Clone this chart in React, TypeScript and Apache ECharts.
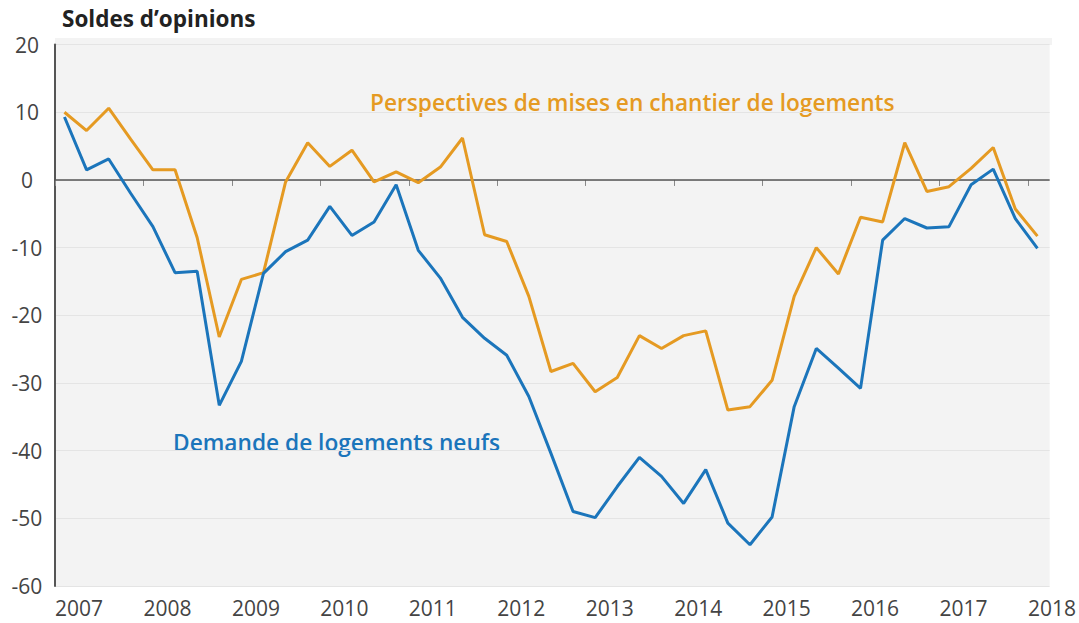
import React, { useEffect, useRef } from "react";
import * as echarts from "echarts";

const years = [2007, 2008, 2009, 2010, 2011, 2012, 2013, 2014, 2015, 2016, 2017, 2018];
const quartersPerYear = ["T1", "T2", "T3", "T4"];
// quarterly survey points, 2007 T1 .. 2018 T1
const quarters: string[] = [];
years.forEach((y) => quartersPerYear.forEach((q) => quarters.push(`${y}-${q}`)));
const quarterLabels = quarters.slice(0, 45);

const perspectives = [
  10, 7.3, 10.6, 6, 1.5, 1.5, -8.5, -23.2, -14.7, -13.7, -0.3, 5.5, 2.0, 4.4, -0.3,
  1.2, -0.4, 1.9, 6.2, -8.1, -9.1, -17.2, -28.3, -27.1, -31.3, -29.2, -23.0, -24.9, -23.0,
  -22.3, -34.0, -33.5, -29.6, -17.2, -10.0, -13.9, -5.5, -6.2, 5.5, -1.7, -1.0, 1.7, 4.8,
  -4.3, -8.3,
];
const demande = [
  9.3, 1.5, 3.1, -2, -6.9, -13.7, -13.5, -33.3, -26.8, -13.8, -10.6, -8.9, -3.9, -8.2,
  -6.2, -0.7, -10.4, -14.5, -20.3, -23.4, -25.9, -32.0, -40.4, -49.0, -49.9, -45.3, -41.0,
  -43.8, -47.8, -42.8, -50.7, -53.9, -49.8, -33.5, -24.9, -27.8, -30.8, -8.9, -5.7, -7.1,
  -6.9, -0.7, 1.6, -5.7, -10.1,
];

const yTicks = [-60, -50, -40, -30, -20, -10, 0, 10, 20];
const title = "Soldes d’opinions";
const labelPerspectives = "Perspectives de mises en chantier de logements";
const labelDemande = "Demande de logements neufs";

// survey month placed ~ early February / May / Aug / Nov
const SURVEY_OFFSET = 0.107;

function toDate(q: string): number {
  const [y, t] = q.split("-");
  return Number(y) + quartersPerYear.indexOf(t) / 4 + SURVEY_OFFSET;
}

const FONT = "'Open Sans', 'Noto Sans', sans-serif";
const ORANGE = "#E59A22";
const BLUE = "#1B75BB";

export default function App() {
  const ref = useRef<HTMLDivElement>(null);
  useEffect(() => {
    if (!ref.current) return;
    const chart = echarts.init(ref.current, null, { renderer: "svg" });
    const xs = quarterLabels.map(toDate);
    chart.setOption({
      animation: false,
      backgroundColor: "#ffffff",
      textStyle: { fontFamily: FONT },
      grid: {
        left: 55,
        right: 27,
        top: 44.6,
        bottom: 37,
        show: true,
        backgroundColor: "#f3f3f3",
        borderWidth: 0,
      },
      graphic: [
        {
          type: "rect",
          shape: { x: 55, y: 38, width: 997, height: 7 },
          style: { fill: "#f3f3f3" },
          z: -10,
          silent: true,
        },
        {
          type: "text",
          left: 62,
          top: 7,
          style: {
            text: title,
            font: `bold 22.5px ${FONT}`,
            fill: "#222",
          },
        },
        {
          type: "text",
          left: 370,
          top: 91,
          style: {
            text: labelPerspectives,
            font: `600 22.7px ${FONT}`,
            fill: ORANGE,
          },
        },
        {
          type: "text",
          left: 173,
          top: 431,
          style: {
            text: labelDemande,
            font: `600 22.7px ${FONT}`,
            fill: BLUE,
          },
        },
      ],
      xAxis: {
        type: "value",
        min: 2007,
        max: 2018.245,
        axisLine: { show: false },
        splitLine: { show: false },
        axisTick: {
          show: true,
          customValues: years,
          length: 6,
          lineStyle: { color: "#888", width: 1 },
        },
        axisLabel: {
          customValues: years,
          align: "left",
          margin: 11,
          color: "#444",
          fontSize: 21,
          fontFamily: FONT,
          formatter: (v: number) => String(Math.round(v)),
        },
      },
      yAxis: {
        type: "value",
        min: -60,
        max: 20,
        interval: 10,
        axisLine: { show: true, lineStyle: { color: "#555", width: 2 } },
        axisTick: { show: false },
        splitLine: { show: true, lineStyle: { color: "#e4e4e4", width: 1 } },
        axisLabel: {
          margin: 28,
          align: "center",
          color: "#444",
          fontSize: 21,
          fontFamily: FONT,
          customValues: yTicks,
        },
      },
      series: [
        {
          name: labelPerspectives,
          type: "line",
          data: xs.map((x, i) => [x, perspectives[i]]),
          showSymbol: false,
          lineStyle: { color: ORANGE, width: 3 },
          itemStyle: { color: ORANGE },
          z: 3,
          markLine: {
            silent: true,
            symbol: "none",
            z: 1,
            label: { show: false },
            lineStyle: { color: "#555", width: 1.5, type: "solid" },
            data: [{ yAxis: 0 }],
          },
        },
        {
          name: labelDemande,
          type: "line",
          data: xs.map((x, i) => [x, demande[i]]),
          showSymbol: false,
          lineStyle: { color: BLUE, width: 3 },
          itemStyle: { color: BLUE },
          z: 3,
        },
      ],
    });
    return () => chart.dispose();
  }, []);
  return (
    <div
      ref={ref}
      style={{ position: "fixed", left: 0, top: 0, width: 1079, height: 623 }}
    />
  );
}
